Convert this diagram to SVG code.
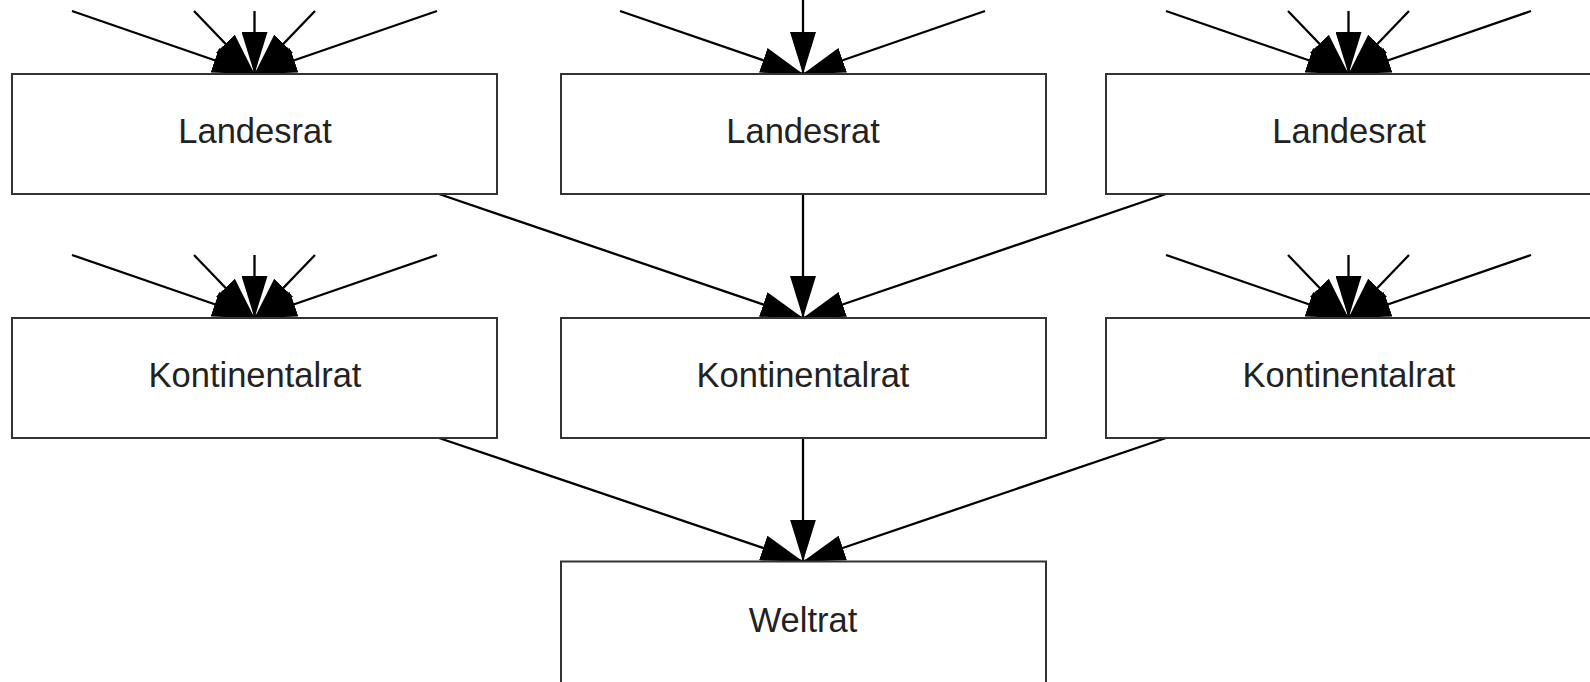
<svg xmlns="http://www.w3.org/2000/svg" width="1590" height="682" viewBox="0 0 1590 682">
<defs>
<marker id="ah" viewBox="0 0 42 26" refX="42" refY="13" markerWidth="42" markerHeight="26" markerUnits="userSpaceOnUse" orient="auto"><path d="M0,0 L42,13 L0,26 Z" fill="#000"/></marker>
<style>
.c{stroke:#000;stroke-width:2.3;fill:none;marker-end:url(#ah)}
.b{fill:#fff;stroke:#333;stroke-width:2}
.t{font-family:"Liberation Sans",Arial,sans-serif;font-size:34.5px;fill:#222;text-anchor:middle}
</style>
</defs>
<rect width="1590" height="682" fill="#fff"/>
<g id="connectors">
<line class="c" x1="72" y1="11" x2="254.5" y2="74"/>
<line class="c" x1="194" y1="11" x2="254.5" y2="74"/>
<line class="c" x1="254.5" y1="11" x2="254.5" y2="74"/>
<line class="c" x1="315" y1="11" x2="254.5" y2="74"/>
<line class="c" x1="437" y1="11" x2="254.5" y2="74"/>
<line class="c" x1="620" y1="11" x2="803" y2="74"/>
<line class="c" x1="803" y1="0" x2="803" y2="74"/>
<line class="c" x1="985" y1="11" x2="803" y2="74"/>
<line class="c" x1="1166" y1="11" x2="1348.5" y2="74"/>
<line class="c" x1="1288" y1="11" x2="1348.5" y2="74"/>
<line class="c" x1="1348.5" y1="11" x2="1348.5" y2="74"/>
<line class="c" x1="1409" y1="11" x2="1348.5" y2="74"/>
<line class="c" x1="1531" y1="11" x2="1348.5" y2="74"/>
<line class="c" x1="439" y1="194" x2="803" y2="318"/>
<line class="c" x1="803" y1="194" x2="803" y2="318"/>
<line class="c" x1="1166" y1="194" x2="803" y2="318"/>
<line class="c" x1="72" y1="255" x2="254.5" y2="318"/>
<line class="c" x1="194" y1="255" x2="254.5" y2="318"/>
<line class="c" x1="254.5" y1="255" x2="254.5" y2="318"/>
<line class="c" x1="315" y1="255" x2="254.5" y2="318"/>
<line class="c" x1="437" y1="255" x2="254.5" y2="318"/>
<line class="c" x1="1166" y1="255" x2="1348.5" y2="318"/>
<line class="c" x1="1288" y1="255" x2="1348.5" y2="318"/>
<line class="c" x1="1348.5" y1="255" x2="1348.5" y2="318"/>
<line class="c" x1="1409" y1="255" x2="1348.5" y2="318"/>
<line class="c" x1="1531" y1="255" x2="1348.5" y2="318"/>
<line class="c" x1="439" y1="438" x2="803" y2="561.5"/>
<line class="c" x1="803" y1="438" x2="803" y2="561.5"/>
<line class="c" x1="1166" y1="438" x2="803" y2="561.5"/>
</g>
<g id="landesrat1"><rect class="b" x="12" y="74" width="485" height="120"/><text class="t" x="255" y="143">Landesrat</text></g>
<g id="landesrat2"><rect class="b" x="561" y="74" width="485" height="120"/><text class="t" x="803" y="143">Landesrat</text></g>
<g id="landesrat3"><rect class="b" x="1106" y="74" width="485" height="120"/><text class="t" x="1349" y="143">Landesrat</text></g>
<g id="kontinentalrat1"><rect class="b" x="12" y="318" width="485" height="120"/><text class="t" x="255" y="387">Kontinentalrat</text></g>
<g id="kontinentalrat2"><rect class="b" x="561" y="318" width="485" height="120"/><text class="t" x="803" y="387">Kontinentalrat</text></g>
<g id="kontinentalrat3"><rect class="b" x="1106" y="318" width="485" height="120"/><text class="t" x="1349" y="387">Kontinentalrat</text></g>
<g id="weltrat"><rect class="b" x="561" y="561.5" width="485" height="130"/><text class="t" x="803" y="632">Weltrat</text></g>
</svg>
